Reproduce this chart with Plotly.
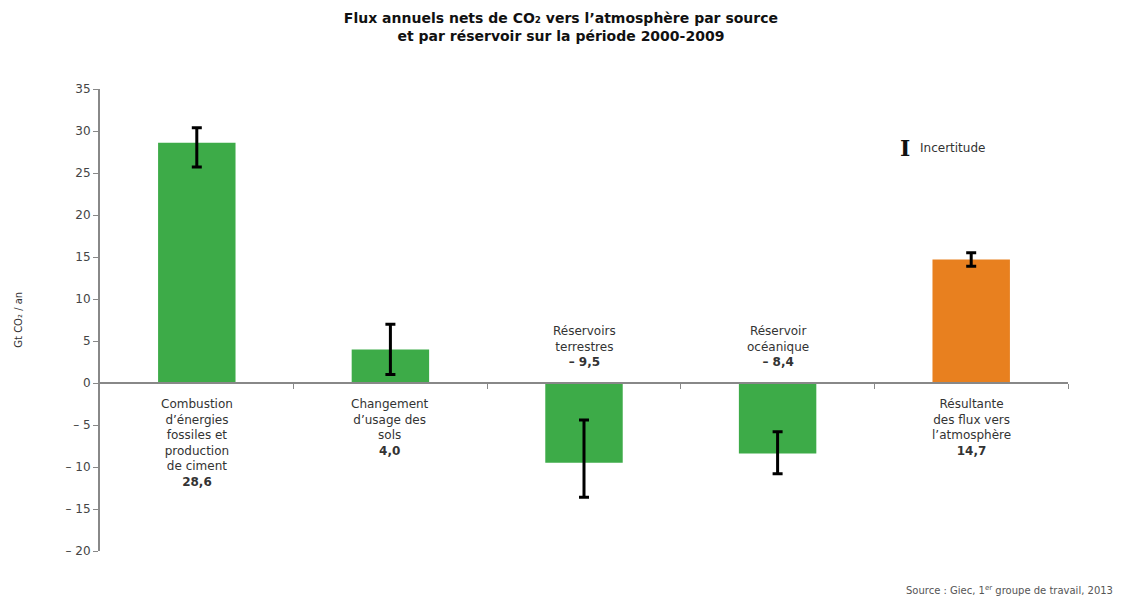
import plotly.graph_objects as go

categories = ["Combustion", "Changement", "Réservoirs terrestres", "Réservoir océanique", "Résultante"]
values = [28.6, 4.0, -9.5, -8.4, 14.7]
err_high = [30.4, 7.0, -4.4, -5.8, 15.5]
err_low = [25.7, 1.0, -13.6, -10.8, 13.9]
colors = ["#3dab48", "#3dab48", "#3dab48", "#3dab48", "#e8801f"]
label_lines = [
    ["Combustion", "d’énergies", "fossiles et", "production", "de ciment"],
    ["Changement", "d’usage des", "sols"],
    ["Réservoirs", "terrestres"],
    ["Réservoir", "océanique"],
    ["Résultante", "des flux vers", "l’atmosphère"],
]
value_labels = ["28,6", "4,0", "– 9,5", "– 8,4", "14,7"]
ytick_vals = [35, 30, 25, 20, 15, 10, 5, 0, -5, -10, -15, -20]
ytick_text = ["35", "30", "25", "20", "15", "10", "5", "0", "– 5", "– 10", "– 15", "– 20"]

FONT = "DejaVu Sans"
x_idx = list(range(len(categories)))

fig = go.Figure()
fig.add_trace(go.Bar(
    x=x_idx, y=values, width=0.4,
    marker=dict(color=colors, line=dict(width=0)),
    error_y=dict(type="data", symmetric=False,
                 array=[h - v for h, v in zip(err_high, values)],
                 arrayminus=[v - l for l, v in zip(err_low, values)],
                 color="black", thickness=3, width=5),
    showlegend=False, hoverinfo="skip",
))

annotations = []
for i, (lines, vl, v) in enumerate(zip(label_lines, value_labels, values)):
    text = "<br>".join(lines) + "<br><b>" + vl + "</b>"
    pos = v >= 0
    annotations.append(dict(x=i, y=0, xref="x", yref="y", text=text, showarrow=False,
                            yanchor="top" if pos else "bottom", yshift=-12 if pos else 12,
                            align="center",
                            font=dict(family=FONT, size=12, color="#333333")))

annotations.append(dict(x=-0.085, xref="paper", y=0.5, yref="paper", text="Gt CO₂ / an",
                        textangle=-90, showarrow=False, xanchor="center", yanchor="middle",
                        font=dict(family=FONT, size=10, color="#333333")))
annotations.append(dict(x=0.832, xref="paper", y=0.872, yref="paper", text="<b>I</b>",
                        showarrow=False, xanchor="center", yanchor="middle",
                        font=dict(family="DejaVu Serif", size=22, color="#111111")))
annotations.append(dict(x=0.845, xref="paper", y=0.872, yref="paper", text="Incertitude",
                        showarrow=False, xanchor="left", yanchor="middle",
                        font=dict(family=FONT, size=12, color="#333333")))
annotations.append(dict(x=1.0486, xref="paper", y=-0.084, yref="paper", xanchor="right", yanchor="middle",
                        text="Source : Giec, 1<sup>er</sup> groupe de travail, 2013", showarrow=False,
                        font=dict(family=FONT, size=10, color="#555555")))

fig.update_layout(
    width=1117, height=592,
    margin=dict(l=92, r=57, t=81, b=49),
    paper_bgcolor="white", plot_bgcolor="white",
    title=dict(text="<b>Flux annuels nets de CO₂ vers l’atmosphère par source<br>et par réservoir sur la période 2000-2009</b>",
               x=0.495, xanchor="center", y=0.975, yanchor="top",
               font=dict(family=FONT, size=14, color="#111111")),
    annotations=annotations,
    xaxis=dict(range=[-0.5, 4.5], anchor="free", position=20 / 55,
               showline=True, linecolor="#888888", linewidth=2,
               tickmode="array", tickvals=[0.5, 1.5, 2.5, 3.5, 4.5],
               showticklabels=False, ticks="outside", ticklen=5, tickcolor="#888888",
               showgrid=False, zeroline=False),
    yaxis=dict(range=[-20, 35], tickmode="array", tickvals=ytick_vals, ticktext=ytick_text,
               showline=True, linecolor="#888888", linewidth=2,
               ticks="outside", ticklen=5, tickcolor="#888888",
               showgrid=False, zeroline=False,
               tickfont=dict(family=FONT, size=12, color="#444444")),
)

fig.write_html("out.html")
